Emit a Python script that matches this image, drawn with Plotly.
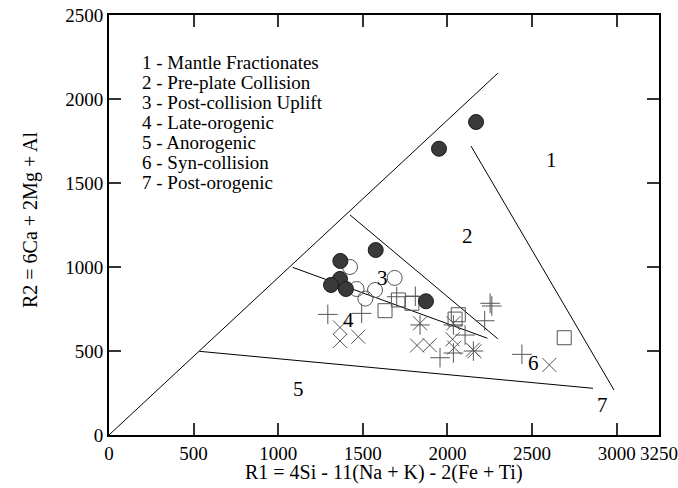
import plotly.graph_objects as go

# ---- field boundary lines (R1, R2) ----
diag_r1 = [0, 2297]
diag_r2 = [0, 2153]
right_r1 = [2139, 2984]
right_r2 = [1720, 268]
upper3_r1 = [1424, 2297]
upper3_r2 = [1310, 573]
lower3_r1 = [1085, 2236]
lower3_r2 = [998, 576]
anoro_r1 = [535, 2860]
anoro_r2 = [498, 278]

# ---- samples ----
filled_r1 = [2169, 1950, 1576, 1367, 1365, 1312, 1400, 1873]
filled_r2 = [1863, 1704, 1101, 1036, 929, 893, 869, 796]

open_r1 = [1424, 1463, 1515, 1572, 1688]
open_r2 = [1000, 869, 812, 863, 935]

square_r1 = [1631, 1710, 1790, 2064, 2045, 2690]
square_r2 = [740, 804, 784, 716, 690, 579]

plus_r1 = [1293, 1493, 1700, 1810, 1838, 2035, 2252, 2262, 2220, 2104, 1956, 2035, 2153, 2440]
plus_r2 = [718, 724, 823, 826, 655, 655, 784, 768, 680, 595, 460, 488, 500, 480]

cross_r1 = [1365, 1365, 1473, 1838, 2035, 1820, 1895, 2030, 2040, 2150, 2160, 2602]
cross_r2 = [640, 560, 585, 665, 665, 533, 535, 570, 520, 508, 498, 417]

# ---- labels ----
field_labels = ["1", "2", "3", "4", "5", "6", "7"]
field_r1 = [2612, 2121, 1619, 1418, 1117, 2511, 2919]
field_r2 = [1637, 1185, 935, 685, 274, 429, 179]

legend_lines = [
    "1 - Mantle Fractionates",
    "2 - Pre-plate Collision",
    "3 - Post-collision Uplift",
    "4 - Late-orogenic",
    "5 - Anorogenic",
    "6 - Syn-collision",
    "7 - Post-orogenic",
]

x_ticks = [0, 500, 1000, 1500, 2000, 2500, 3000, 3250]
y_ticks = [0, 500, 1000, 1500, 2000, 2500]

FONT = "Liberation Serif"
GREY = "#555555"

fig = go.Figure()

line_style = dict(color="black", width=1)
for xs, ys in [(diag_r1, diag_r2), (right_r1, right_r2), (upper3_r1, upper3_r2),
               (lower3_r1, lower3_r2), (anoro_r1, anoro_r2)]:
    fig.add_trace(go.Scatter(x=xs, y=ys, mode="lines", line=line_style,
                             showlegend=False, hoverinfo="skip"))

fig.add_trace(go.Scatter(x=plus_r1, y=plus_r2, mode="markers", showlegend=False,
                         marker=dict(symbol="cross-thin-open", size=14, color=GREY,
                                     line=dict(color=GREY, width=1))))
fig.add_trace(go.Scatter(x=cross_r1, y=cross_r2, mode="markers", showlegend=False,
                         marker=dict(symbol="x-thin-open", size=14, color=GREY,
                                     line=dict(color=GREY, width=1))))
fig.add_trace(go.Scatter(x=square_r1, y=square_r2, mode="markers", showlegend=False,
                         marker=dict(symbol="square-open", size=14, color=GREY,
                                     line=dict(color=GREY, width=1))))
fig.add_trace(go.Scatter(x=open_r1, y=open_r2, mode="markers", showlegend=False,
                         marker=dict(symbol="circle-open", size=15, color=GREY,
                                     line=dict(color=GREY, width=1))))
fig.add_trace(go.Scatter(x=filled_r1, y=filled_r2, mode="markers", showlegend=False,
                         marker=dict(symbol="circle", size=15, color="#3a3a3a",
                                     line=dict(color="#1a1a1a", width=1))))

annotations = []
for t, x, y in zip(field_labels, field_r1, field_r2):
    annotations.append(dict(x=x, y=y, xref="x", yref="y", text=t, showarrow=False,
                            font=dict(family=FONT, size=21, color="black")))

for i, t in enumerate(legend_lines):
    py = 62 + 20 * i
    annotations.append(dict(x=(140 - 109) / 550, y=(435 - py) / 420, xref="paper", yref="paper",
                            xanchor="left", yanchor="middle", text=t, showarrow=False,
                            font=dict(family=FONT, size=19, color="black")))

annotations.append(dict(x=0.5, y=(435 - 473) / 420, xref="paper", yref="paper",
                        xanchor="center", yanchor="middle", showarrow=False,
                        text="R1 = 4Si - 11(Na + K) - 2(Fe + Ti)",
                        font=dict(family=FONT, size=20, color="black")))
annotations.append(dict(x=(30 - 109) / 550, y=(435 - 220) / 420, xref="paper", yref="paper",
                        xanchor="center", yanchor="middle", showarrow=False, textangle=-90,
                        text="R2 = 6Ca + 2Mg + Al",
                        font=dict(family=FONT, size=20, color="black")))

axis_common = dict(showgrid=False, zeroline=False, showline=True, linecolor="#000000",
                   linewidth=2, mirror="allticks", ticks="inside", ticklen=12,
                   tickwidth=2, tickcolor="#333333",
                   tickfont=dict(family=FONT, size=19, color="black"))

fig.update_layout(
    width=678, height=488,
    margin=dict(l=109, r=19, t=15, b=53, autoexpand=False),
    paper_bgcolor="white", plot_bgcolor="white",
    xaxis=dict(range=[0, 3250], tickmode="array", tickvals=x_ticks,
               ticktext=[str(v) for v in x_ticks], **axis_common),
    yaxis=dict(range=[0, 2500], tickmode="array", tickvals=y_ticks,
               ticktext=[str(v) for v in y_ticks], **axis_common),
    annotations=annotations,
)

fig.write_html("out.html")
